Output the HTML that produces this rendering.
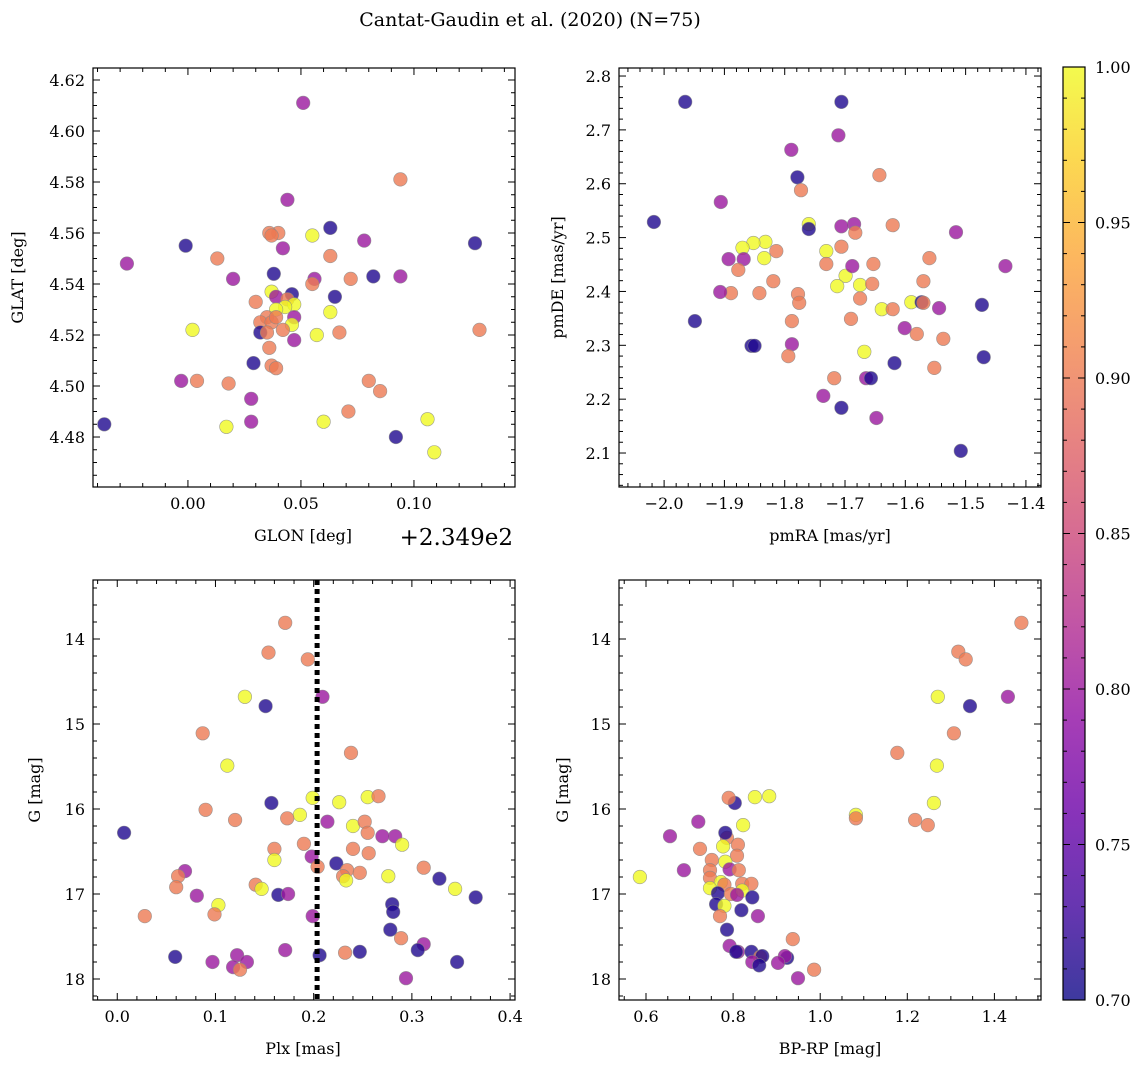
<!DOCTYPE html>
<html><head><meta charset="utf-8">
<style>
body{margin:0;background:#fff;}
svg text{font-family:"DejaVu Serif","Liberation Serif",serif;fill:#000;}
</style></head>
<body>
<svg id="fig" width="1148" height="1067" viewBox="0 0 1148 1067" xmlns="http://www.w3.org/2000/svg">
<rect width="1148" height="1067" fill="#fff"/>
<text x="530" y="26" font-size="19" text-anchor="middle">Cantat-Gaudin et al. (2020) (N=75)</text>
<defs>
<linearGradient id="cbgrad" x1="0" y1="1" x2="0" y2="0">
<stop offset="0" stop-color="#0d0887"/><stop offset="0.1" stop-color="#41049d"/><stop offset="0.2" stop-color="#6a00a8"/><stop offset="0.3" stop-color="#8f0da4"/><stop offset="0.4" stop-color="#b12a90"/><stop offset="0.5" stop-color="#cc4778"/><stop offset="0.6" stop-color="#e16462"/><stop offset="0.7" stop-color="#f2844b"/><stop offset="0.8" stop-color="#fca636"/><stop offset="0.9" stop-color="#fcce25"/><stop offset="1" stop-color="#f0f921"/>
</linearGradient>
</defs>
</svg>
<script>
// Panel 1: GLON offset (from 234.9) / GLAT
const p1Lon=[.051,.094,.044,.063,.127,-.001,.040,.036,.037,.042,-.027,.013,.020,.078,.055,.063,.038,.056,.055,.082,.094,.072,.037,.030,.046,.039,.044,.047,.065,.043,.039,.063,.047,.035,.032,.037,.039,.046,.042,.032,.035,.002,.057,.067,.047,.036,.029,.037,.039,-.003,.004,.018,.080,.085,.028,.071,.060,-.037,.017,.028,.092,.106,.109,.129];
const p1Lat=[4.611,4.581,4.573,4.562,4.556,4.555,4.560,4.560,4.559,4.554,4.548,4.550,4.542,4.557,4.559,4.551,4.544,4.542,4.540,4.543,4.543,4.542,4.537,4.533,4.536,4.535,4.534,4.532,4.535,4.531,4.530,4.529,4.527,4.527,4.525,4.525,4.527,4.524,4.522,4.521,4.521,4.522,4.520,4.521,4.518,4.515,4.509,4.508,4.507,4.502,4.502,4.501,4.502,4.498,4.495,4.490,4.486,4.485,4.484,4.486,4.480,4.487,4.474,4.522];
const p1Prob=[.80,.90,.80,.71,.71,.71,.90,.90,.90,.80,.80,.90,.80,.80,1,.90,.71,.80,.90,.71,.80,.90,1,.90,.71,.80,.90,1,.71,1,1,1,.80,.90,.90,.90,.90,1,.90,.71,.90,1,1,.90,.80,.90,.71,.90,.90,.80,.90,.90,.90,.90,.80,.90,1,.71,1,.80,.71,1,1,.90];
// Panel 2: pmRA / pmDE
const p2Ra=[-1.965,-1.706,-1.711,-1.789,-1.779,-1.773,-1.643,-1.906,-2.017,-1.760,-1.760,-1.516,-1.685,-1.706,-1.621,-1.683,-1.731,-1.832,-1.852,-1.870,-1.893,-1.868,-1.834,-1.814,-1.706,-1.731,-1.653,-1.560,-1.877,-1.819,-1.434,-1.699,-1.675,-1.688,-1.713,-1.778,-1.675,-1.655,-1.570,-1.889,-1.907,-1.776,-1.842,-1.639,-1.621,-1.590,-1.573,-1.570,-1.544,-1.690,-1.473,-1.949,-1.601,-1.788,-1.581,-1.537,-1.855,-1.850,-1.788,-1.668,-1.794,-1.470,-1.618,-1.552,-1.665,-1.718,-1.736,-1.706,-1.657,-1.648,-1.508];
const p2De=[2.752,2.752,2.690,2.663,2.612,2.588,2.616,2.566,2.529,2.525,2.516,2.510,2.525,2.521,2.523,2.509,2.475,2.492,2.490,2.481,2.460,2.460,2.462,2.475,2.483,2.451,2.451,2.462,2.440,2.419,2.447,2.429,2.412,2.447,2.410,2.395,2.387,2.414,2.419,2.397,2.399,2.379,2.397,2.367,2.367,2.380,2.380,2.379,2.369,2.349,2.375,2.345,2.332,2.345,2.321,2.312,2.299,2.299,2.302,2.288,2.280,2.278,2.267,2.258,2.239,2.239,2.206,2.184,2.239,2.165,2.104];
const p2Prob=[.71,.71,.80,.80,.71,.90,.90,.80,.71,1,.71,.80,.80,.80,.90,.90,1,1,1,1,.80,.80,1,.90,.90,.90,.90,.90,.90,.90,.80,1,1,.80,1,.90,.90,.90,.90,.90,.80,.90,.90,1,.90,1,.71,.90,.80,.90,.71,.71,.80,.90,.90,.90,.71,.71,.80,1,.90,.71,.71,.90,.80,.90,.80,.71,.71,.80,.71];
// Panel 3: Plx / G
const p3Plx=[.171,.154,.194,.130,.209,.151,.087,.238,.112,.007,.157,.199,.090,.226,.255,.266,.186,.173,.240,.214,.120,.252,.283,.270,.255,.290,.160,.190,.160,.240,.198,.223,.204,.234,.256,.069,.062,.312,.230,.247,.233,.276,.060,.141,.147,.328,.164,.174,.344,.081,.103,.365,.280,.281,.099,.028,.199,.289,.312,.278,.247,.171,.232,.306,.206,.059,.122,.097,.132,.118,.125,.346,.294];
const p3G=[13.81,14.16,14.24,14.68,14.68,14.79,15.11,15.34,15.49,16.28,15.93,15.87,16.01,15.92,15.86,15.85,16.07,16.11,16.20,16.15,16.13,16.15,16.32,16.32,16.28,16.42,16.47,16.41,16.60,16.47,16.56,16.64,16.68,16.72,16.52,16.73,16.79,16.69,16.79,16.75,16.84,16.79,16.92,16.89,16.94,16.82,17.01,17.00,16.94,17.02,17.13,17.04,17.12,17.21,17.24,17.26,17.26,17.52,17.59,17.42,17.68,17.66,17.69,17.66,17.72,17.74,17.72,17.80,17.80,17.86,17.89,17.80,17.99];
const p3Prob=[.90,.90,.90,1,.80,.71,.90,.90,1,.71,.71,1,.90,1,1,.90,1,.90,1,.80,.90,.90,.80,.80,.90,1,.90,.90,1,.90,.80,.71,.90,.90,.90,.80,.90,.90,.90,.90,1,1,.90,.90,1,.71,.71,.80,1,.80,1,.71,.71,.71,.90,.90,.80,.90,.80,.71,.71,.80,.90,.71,.71,.71,.80,.80,.80,.80,.90,.71,.80];
const plxCut=[0.2035];
// Panel 4: BP-RP / G
const p4Col=[1.462,1.317,1.334,1.431,1.270,1.344,1.177,1.307,1.268,.804,.790,.850,.883,1.261,1.082,1.082,.823,.786,1.218,1.247,.720,.655,.782,.724,.811,.777,.809,.687,.751,.782,.792,.747,.586,.813,.747,.772,.821,.842,.780,.747,.765,.795,.821,.844,.809,.761,.780,.770,.819,.857,.786,.792,.811,.842,.862,.867,.937,.924,.919,.844,.807,.903,.860,.986,.949];
const p4G=[13.81,14.15,14.24,14.68,14.68,14.79,15.34,15.11,15.49,15.93,15.87,15.86,15.85,15.93,16.07,16.11,16.19,16.34,16.13,16.19,16.15,16.32,16.28,16.47,16.42,16.44,16.55,16.72,16.60,16.62,16.71,16.72,16.80,16.72,16.81,16.86,16.88,16.88,16.89,16.93,16.99,17.00,16.96,17.04,17.01,17.12,17.14,17.26,17.19,17.26,17.42,17.61,17.68,17.68,17.74,17.73,17.53,17.75,17.73,17.80,17.68,17.81,17.84,17.89,17.99];
const p4Prob=[.90,.90,.90,.80,1,.71,.90,.90,1,.71,.90,1,1,1,1,.90,1,.90,.90,.90,.80,.80,.71,.90,.90,1,.90,.80,.90,1,.80,.90,1,.90,.90,1,.90,.90,.90,1,.71,.90,1,.71,.80,.71,1,.90,.71,.80,.71,.80,.80,.71,.90,.71,.90,.71,.80,.80,.71,.80,.71,.90,.80];
const cbTicks=[0.70,0.75,0.80,0.85,0.90,0.95,1.00];

const NS='http://www.w3.org/2000/svg';
const svg=document.getElementById('fig');
function mk(tag,attrs,parent){const e=document.createElementNS(NS,tag);for(const k in attrs)e.setAttribute(k,attrs[k]);(parent||svg).appendChild(e);return e;}
const stops=[[0,[13,8,135]],[.1,[65,4,157]],[.2,[106,0,168]],[.3,[143,13,164]],[.4,[177,42,144]],[.5,[204,71,120]],[.6,[225,100,98]],[.7,[242,132,75]],[.8,[252,166,54]],[.9,[252,206,37]],[1,[240,249,33]]];
function plasma(p){let t=(p-0.7)/0.3;t=Math.max(0,Math.min(1,t));for(let i=0;i<stops.length-1;i++){const a=stops[i],b=stops[i+1];if(t<=b[0]){const f=(t-a[0])/(b[0]-a[0]);const c=a[1].map((v,j)=>Math.round(v+(b[1][j]-v)*f));return `rgb(${c[0]},${c[1]},${c[2]})`;}}return 'rgb(240,249,33)';}
function fmt(v,d){const s=v.toFixed(d);return s.startsWith('-')?'\u2212'+s.slice(1):s;}

function panel(o){
  const g=mk('g',{});
  
  
  const L=o.box[0],T=o.box[1],R=o.box[2],B=o.box[3];
  const sx=v=>L+(v-o.xr[0])/(o.xr[1]-o.xr[0])*(R-L);
  const sy=v=>o.yinv? T+(v-o.yr[0])/(o.yr[1]-o.yr[0])*(B-T) : B-(v-o.yr[0])/(o.yr[1]-o.yr[0])*(B-T);
  const pg=mk('g',{},g);
  
  
  for(let i=0;i<o.xs.length;i++){
    const c=mk('circle',{cx:sx(o.xs[i]).toFixed(1),cy:sy(o.ys[i]).toFixed(1),r:6.8,fill:plasma(o.ps[i]),'fill-opacity':0.8,stroke:'#888','stroke-width':0.6,'stroke-opacity':0.8},pg);
    
    
  }
  if(o.vline){const l=mk('line',{x1:sx(o.vline),x2:sx(o.vline),y1:T,y2:B,stroke:'#000','stroke-width':5,'stroke-dasharray':'5,4'},g);
    
    }
  const fr=mk('rect',{x:L,y:T,width:R-L,height:B-T,fill:'none',stroke:'#000','stroke-width':1.2},g);
  
  
  const eps=1e-9;
  for(let v=Math.ceil(o.xr[0]/o.xmin-eps)*o.xmin; v<=o.xr[1]+eps; v+=o.xmin){
    const x=sx(v);const major=Math.abs(v/o.xmaj-Math.round(v/o.xmaj))<1e-4;const len=major?7:4;
    mk('line',{x1:x,x2:x,y1:B,y2:B-len,stroke:'#000','stroke-width':1},g);
    mk('line',{x1:x,x2:x,y1:T,y2:T+len,stroke:'#000','stroke-width':1},g);
    if(major){const t=mk('text',{x:x,y:B+22,'font-size':16,'text-anchor':'middle'},g);t.textContent=fmt(Math.round(v/o.xmaj)*o.xmaj,o.xd);
      
      }
  }
  for(let v=Math.ceil(o.yr[0]/o.ymin-eps)*o.ymin; v<=o.yr[1]+eps; v+=o.ymin){
    const y=sy(v);const major=Math.abs(v/o.ymaj-Math.round(v/o.ymaj))<1e-4;const len=major?7:4;
    mk('line',{x1:L,x2:L+len,y1:y,y2:y,stroke:'#000','stroke-width':1},g);
    mk('line',{x1:R,x2:R-len,y1:y,y2:y,stroke:'#000','stroke-width':1},g);
    if(major){const t=mk('text',{x:L-8,y:y+6,'font-size':16,'text-anchor':'end'},g);t.textContent=fmt(Math.round(v/o.ymaj)*o.ymaj,o.yd);
      
      }
  }
  const xl=mk('text',{x:o.xlx,y:B+54,'font-size':16,'text-anchor':'middle'},g);xl.textContent=o.xlabel;
  
  
  const yx=o.ylx, yy=(T+B)/2;
  const yl=mk('text',{x:yx,y:yy,'font-size':16,'text-anchor':'middle',transform:`rotate(-90 ${yx} ${yy})`},g);yl.textContent=o.ylabel;
  
  
}

panel({name:'panel-glon-glat',box:[93,68,515,487],xr:[-0.042,0.1447],yr:[4.4604,4.6247],xs:p1Lon,ys:p1Lat,ps:p1Prob,xmaj:0.05,xmin:0.01,xd:2,ymaj:0.02,ymin:0.005,yd:2,xlabel:'GLON [deg]',xlx:303,ylabel:'GLAT [deg]',ylx:23});
panel({name:'panel-proper-motion',box:[619,68,1041,487],xr:[-2.0748,-1.375],yr:[2.0369,2.8149],xs:p2Ra,ys:p2De,ps:p2Prob,xmaj:0.1,xmin:0.02,xd:1,ymaj:0.1,ymin:0.02,yd:1,xlabel:'pmRA [mas/yr]',xlx:830,ylabel:'pmDE [mas/yr]',ylx:563});
panel({name:'panel-plx-g',box:[93,580,515,1000],xr:[-0.0247,0.405],yr:[13.306,18.247],yinv:true,xs:p3Plx,ys:p3G,ps:p3Prob,xmaj:0.1,xmin:0.02,xd:1,ymaj:1,ymin:0.2,yd:0,xlabel:'Plx [mas]',xlx:303,ylabel:'G [mag]',ylx:40,vline:plxCut[0]});
panel({name:'panel-cmd',box:[619,580,1041,1000],xr:[0.538,1.507],yr:[13.306,18.247],yinv:true,xs:p4Col,ys:p4G,ps:p4Prob,xmaj:0.2,xmin:0.05,xd:1,ymaj:1,ymin:0.2,yd:0,xlabel:'BP-RP [mag]',xlx:830,ylabel:'G [mag]',ylx:568});

const off=mk('text',{x:513,y:545,'font-size':23,'text-anchor':'end'});off.textContent='+2.349e2';



const cb=mk('g',{});


const cT=67,cB=1000,cL=1063,cR=1085;
const cr=mk('rect',{x:cL,y:cT,width:cR-cL,height:cB-cT,fill:'url(#cbgrad)','fill-opacity':0.8,stroke:'#000','stroke-width':1.2},cb);


const cy=v=>cB-(v-0.7)/0.3*(cB-cT);
for(let k=0;k<=30;k++){const v=0.7+k*0.01;const y=cy(v);const major=k%5===0;
  mk('line',{x1:cR,x2:cR-(major?7:4),y1:y,y2:y,stroke:'#000','stroke-width':1},cb);
  mk('line',{x1:cL,x2:cL+(major?7:4),y1:y,y2:y,stroke:'#000','stroke-width':1},cb);}
cbTicks.forEach(v=>{const t=mk('text',{x:cR+10,y:cy(v)+6,'font-size':16},cb);t.textContent=v.toFixed(2);
  
  });
</script>
</body></html>
